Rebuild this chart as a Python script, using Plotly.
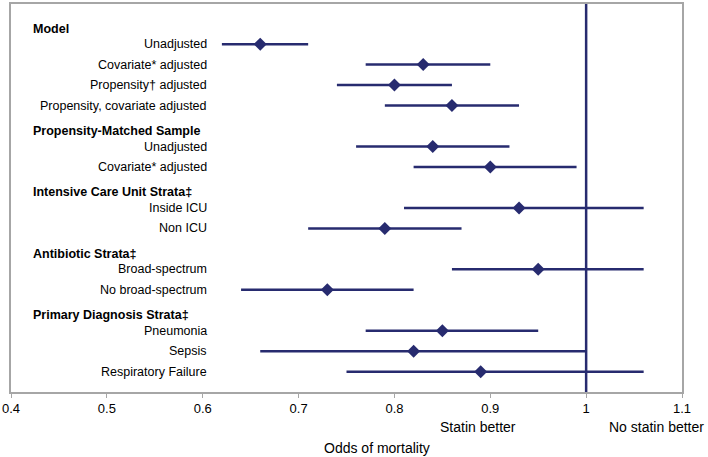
"""Forest plot: odds of mortality with and without statin use."""

import plotly.graph_objects as go

NAVY = "#272b6f"
FRAME = "#a6a6a6"
FONT = "Liberation Sans, Arial, sans-serif"

row_labels = [
    "Model",
    "Unadjusted",
    "Covariate* adjusted",
    "Propensity† adjusted",
    "Propensity, covariate adjusted",
    "Propensity-Matched Sample",
    "Unadjusted",
    "Covariate* adjusted",
    "Intensive Care Unit Strata‡",
    "Inside ICU",
    "Non ICU",
    "Antibiotic Strata‡",
    "Broad-spectrum",
    "No broad-spectrum",
    "Primary Diagnosis Strata‡",
    "Pneumonia",
    "Sepsis",
    "Respiratory Failure",
]
is_header = [
    True, False, False, False, False,
    True, False, False,
    True, False, False,
    True, False, False,
    True, False, False, False,
]
odds_ratio = [
    None, 0.66, 0.83, 0.80, 0.86,
    None, 0.84, 0.90,
    None, 0.93, 0.79,
    None, 0.95, 0.73,
    None, 0.85, 0.82, 0.89,
]
ci_low = [
    None, 0.62, 0.77, 0.74, 0.79,
    None, 0.76, 0.82,
    None, 0.81, 0.71,
    None, 0.86, 0.64,
    None, 0.77, 0.66, 0.75,
]
ci_high = [
    None, 0.71, 0.90, 0.86, 0.93,
    None, 0.92, 0.99,
    None, 1.06, 0.87,
    None, 1.06, 0.82,
    None, 0.95, 1.00, 1.06,
]

x_ticks = [0.4, 0.5, 0.6, 0.7, 0.8, 0.9, 1.0, 1.1]
x_tick_text = ["0.4", "0.5", "0.6", "0.7", "0.8", "0.9", "1", "1.1"]

positions = list(range(len(row_labels)))
data_rows = [i for i in positions if not is_header[i]]

fig = go.Figure(
    go.Scatter(
        x=[odds_ratio[i] for i in data_rows],
        y=data_rows,
        mode="markers",
        marker={"symbol": "diamond", "size": 10, "color": NAVY},
        error_x={
            "type": "data",
            "symmetric": False,
            "array": [ci_high[i] - odds_ratio[i] for i in data_rows],
            "arrayminus": [odds_ratio[i] - ci_low[i] for i in data_rows],
            "color": NAVY,
            "thickness": 2.5,
            "width": 0,
        },
        showlegend=False,
        hoverinfo="skip",
    )
)

# no-effect reference line
fig.add_shape(
    type="line", xref="x", yref="paper", x0=1, x1=1, y0=0, y1=1,
    line={"color": NAVY, "width": 2.5},
)

for i in positions:
    if is_header[i]:
        fig.add_annotation(
            x=0.421, y=i, xref="x", yref="y", text=f"<b>{row_labels[i]}</b>",
            xanchor="left", showarrow=False, yshift=-5,
            font={"size": 12.5, "color": "black", "family": FONT},
        )
    else:
        fig.add_annotation(
            x=0.607, y=i, xref="x", yref="y", text=row_labels[i],
            xanchor="right", showarrow=False,
            font={"size": 12.5, "color": "black", "family": FONT},
        )

for text, xpos in [("Statin better", 0.887), ("No statin better", 1.073)]:
    fig.add_annotation(
        x=xpos, y=-0.09, xref="x", yref="paper", text=text,
        showarrow=False, yanchor="middle",
        font={"size": 14, "color": "black", "family": FONT},
    )
fig.add_annotation(
    x=0.545, y=-0.145, xref="paper", yref="paper", text="Odds of mortality",
    showarrow=False, yanchor="middle", xanchor="center",
    font={"size": 14, "color": "black", "family": FONT},
)

fig.update_xaxes(
    range=[0.4, 1.1],
    tickvals=x_ticks,
    ticktext=x_tick_text,
    ticklabeloverflow="allow",
    showgrid=False,
    zeroline=False,
    showline=True,
    mirror=True,
    linecolor=FRAME,
    linewidth=1.5,
    ticks="outside",
    ticklen=4,
    tickcolor=FRAME,
    tickfont={"size": 13, "color": "black", "family": FONT},
)
fig.update_yaxes(
    range=[17.99, -0.96],
    showticklabels=False,
    showgrid=False,
    zeroline=False,
    showline=True,
    mirror=True,
    linecolor=FRAME,
    linewidth=1.5,
)
fig.update_layout(
    width=708,
    height=457,
    margin={"l": 8, "r": 26, "t": 2, "b": 65},
    plot_bgcolor="white",
    paper_bgcolor="white",
    font={"family": FONT},
)

fig.write_html(
    "out.html",
    config={"displayModeBar": False},
    post_script="document.body.style.margin = '0';",
)
